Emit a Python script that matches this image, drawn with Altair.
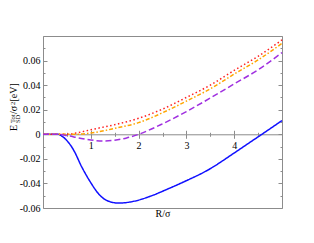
import altair as alt
import pandas as pd

# ---- data ----
solid_x = [0.0, 0.2, 0.32, 0.39, 0.46, 0.64, 0.81, 0.99, 1.16, 1.33, 1.58, 1.89, 2.24, 2.6, 2.93, 3.49, 3.97, 4.32, 4.58, 5.0]
solid_y = [0.0, 0.0, 0.0, -0.0014, -0.0035, -0.0128, -0.0265, -0.0388, -0.0483, -0.0538, -0.056, -0.0546, -0.0505, -0.0447, -0.0390, -0.0282, -0.0160, -0.0068, 0.0, 0.0112]

dotted_x = [0.0, 0.5, 0.75, 1.0, 1.5, 2.0, 2.5, 3.0, 3.5, 4.0, 4.5, 5.0]
dotted_y = [0.0, 0.0, 0.0015, 0.0037, 0.0078, 0.013, 0.0205, 0.030, 0.040, 0.052, 0.0635, 0.0768]

dashdot_x = [0.0, 0.7, 1.0, 1.5, 2.0, 2.5, 3.0, 3.5, 4.0, 4.5, 5.0]
dashdot_y = [0.0, 0.0, 0.001, 0.0048, 0.0095, 0.0175, 0.027, 0.037, 0.049, 0.0605, 0.074]

dashed_x = [0.0, 0.3, 0.5, 0.75, 1.0, 1.25, 1.5, 1.75, 2.0, 2.5, 3.0, 3.5, 4.0, 4.5, 5.0]
dashed_y = [0.0, 0.0, -0.001, -0.003, -0.0047, -0.0054, -0.0048, -0.003, 0.0, 0.0085, 0.0185, 0.0295, 0.041, 0.0525, 0.0665]

series_names = ["solid", "dotted", "dashdot", "dashed"]
series_colors = ["#1010ff", "#ff2020", "#ffa500", "#a030e0"]
series_dashes = [[1, 0], [1.5, 2.5], [4, 2, 1.5, 2], [6, 3]]

x_major = [1, 2, 3, 4]
x_minor = [0.5, 1.5, 2.5, 3.5, 4.5]
y_labels = [-0.06, -0.04, -0.02, 0, 0.02, 0.04, 0.06]
y_major = [-0.06, -0.04, -0.02, 0, 0.02, 0.04, 0.06, 0.08]
y_minor = [-0.05, -0.03, -0.01, 0.01, 0.03, 0.05, 0.07]

rows = []
for name, xs, ys in zip(series_names,
                        [solid_x, dotted_x, dashdot_x, dashed_x],
                        [solid_y, dotted_y, dashdot_y, dashed_y]):
    for xv, yv in zip(xs, ys):
        rows.append({"series": name, "r": xv, "e": yv})
df = pd.DataFrame(rows)

# ---- layout ----
W, H = 239, 172
YMIN, YMAX = -0.06, 0.08
zero_px = H * YMAX / (YMAX - YMIN)

xscale = alt.Scale(domain=[0, 5], nice=False, zero=False)
yscale = alt.Scale(domain=[YMIN, YMAX], nice=False, zero=False)

SERIF = "Liberation Serif"
GRAY = "#8c8c8c"

# y-title pieces: baseline x (relative to plot left) and start y
BX = -26.3
SUB = BX + 2.6
SUP = BX - 2.2


def ttl(text, tx, ty, size):
    return dict(title=text, titleX=tx, titleY=ty, titleAngle=270, titleAlign="left",
                titleBaseline="alphabetic", titleFontSize=size, titleFont=SERIF,
                titleFontWeight="normal", titleColor="black")


def xenc(axis):
    return alt.X("r:Q", scale=xscale, axis=axis)


def yenc(axis):
    return alt.Y("e:Q", scale=yscale, axis=axis)


lines = alt.Chart(df).mark_line(strokeWidth=1.5, interpolate="monotone").encode(
    x=xenc(alt.Axis(orient="bottom", offset=-(H - zero_px), values=x_major, tickSize=4,
                    labelPadding=2, domain=True, format="d", title="R/σ",
                    titleY=79, titleBaseline="middle")),
    y=yenc(alt.Axis(orient="left", values=y_labels, ticks=False, tickSize=0, domain=False,
                    labelPadding=3, labelExpr="'' + datum.value", **ttl("E", BX, 94.5, 10))),
    color=alt.Color("series:N", scale=alt.Scale(domain=series_names, range=series_colors), legend=None),
    strokeDash=alt.StrokeDash("series:N", scale=alt.Scale(domain=series_names, range=series_dashes), legend=None),
)

ghost = alt.Chart(df).mark_line(opacity=0)

t2 = ghost.encode(
    x=xenc(alt.Axis(orient="top", offset=-zero_px, values=x_major, tickSize=4, labels=False, domain=False, title=None)),
    y=yenc(alt.Axis(orient="right", offset=-W, values=y_major, tickSize=4, labels=False, domain=False,
                    **ttl("SD", SUB, 86.5, 6.5))),
)
t3 = ghost.encode(
    x=xenc(alt.Axis(orient="bottom", offset=-(H - zero_px), values=x_minor, tickSize=2, labels=False, domain=False, title=None)),
    y=yenc(alt.Axis(orient="right", offset=-W, values=y_minor, tickSize=2, labels=False, domain=False,
                    **ttl("Tot", SUP, 86.5, 6.5))),
)
t4 = ghost.encode(
    x=xenc(alt.Axis(orient="top", offset=-zero_px, values=x_minor, tickSize=2, labels=False, domain=False, title=None)),
    y=yenc(alt.Axis(orient="left", offset=-W, values=y_major, tickSize=4, labels=False, domain=False,
                    **ttl("/σ", BX - W, 77.5, 10))),
)
t5 = ghost.encode(
    x=xenc(None),
    y=yenc(alt.Axis(orient="left", offset=-W, values=y_minor, tickSize=2, labels=False, domain=False,
                    **ttl("2", SUP - W, 68.5, 6.5))),
)
t6 = ghost.encode(
    x=xenc(None),
    y=yenc(alt.Axis(orient="left", values=[], ticks=False, labels=False, domain=False,
                    **ttl("[eV]", BX, 65.0, 10))),
)

chart = alt.layer(lines, t2, t3, t4, t5, t6).resolve_axis(
    x="independent", y="independent"
).properties(
    width=W, height=H,
    padding={"left": 35, "top": 28, "right": 24, "bottom": 27},
    autosize=alt.AutoSizeParams(type="none"),
).configure_view(
    stroke=GRAY, strokeWidth=1
).configure_axis(
    grid=False, labelFont=SERIF, labelFontSize=10, labelColor="black",
    tickColor=GRAY, domainColor=GRAY, labelOverlap=False, labelFlush=False,
    titleFont=SERIF, titleFontSize=10, titleFontWeight="normal", titleColor="black",
)

chart.save("out.html", embed_options={"renderer": "svg", "actions": False})
